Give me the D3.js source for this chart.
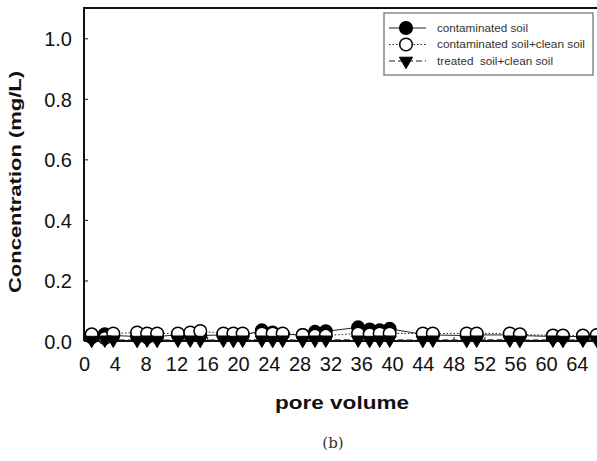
<!DOCTYPE html>
<html>
<head>
<meta charset="utf-8">
<script src="https://cdn.jsdelivr.net/npm/d3@7"></script>
<style>
  body { margin: 0; background: #fff; }
  svg { display: block; }
</style>
</head>
<body>
<div id="chart"></div>
<script>
// pore volume sampling points (shared by all three columns)
const poreVolume = [1.0, 2.7, 3.8, 6.9, 8.2, 9.5, 12.2, 13.8, 15.1, 18.1, 19.4, 20.6, 23.1, 24.5, 25.8, 28.4, 30.0, 31.4,
  35.6, 37.1, 38.4, 39.7, 44.0, 45.3, 49.7, 51.0, 55.3, 56.6, 60.9, 62.2, 64.8, 66.6];

const contaminatedSoil = [0.012, 0.022, 0.018, 0.015, 0.012, 0.015, 0.02, 0.022, 0.018, 0.02, 0.018, 0.018, 0.035, 0.028, 0.022,
  0.02, 0.03, 0.032, 0.045, 0.038, 0.035, 0.04, 0.022, 0.02, 0.018, 0.02, 0.02, 0.018, 0.015, 0.015, 0.015, 0.018];

const contaminatedClean = [0.022, 0.01, 0.025, 0.028, 0.025, 0.025, 0.025, 0.028, 0.033, 0.025, 0.025, 0.025, 0.025, 0.025, 0.025,
  0.02, 0.018, 0.018, 0.025, 0.022, 0.025, 0.025, 0.025, 0.025, 0.025, 0.025, 0.025, 0.022, 0.018, 0.018, 0.018, 0.02];

const treatedClean = [0.003, 0.004, 0.004, 0.003, 0.004, 0.003, 0.004, 0.004, 0.003, 0.004, 0.003, 0.004, 0.004, 0.003, 0.004,
  0.003, 0.004, 0.004, 0.004, 0.003, 0.004, 0.004, 0.003, 0.004, 0.003, 0.004, 0.004, 0.003, 0.004, 0.003, 0.004, 0.004];

const seriesNames = ["contaminated soil", "contaminated soil+clean soil", "treated  soil+clean soil"];
const xTicks = d3.range(0, 65, 4);
const yTicks = [0, 0.2, 0.4, 0.6, 0.8, 1.0];

const width = 597, height = 461;
const margin = { top: 8, left: 84, bottom: 120 };  // plot bottom at y=341
const plotBottom = height - margin.bottom;
const font = "Liberation Sans, Arial, sans-serif";

const svg = d3.select("#chart").append("svg")
  .attr("width", width)
  .attr("height", height);

svg.append("rect").attr("width", width).attr("height", height).attr("fill", "#fff");

const xScale = d3.scaleLinear().domain([0, 68]).range([margin.left, margin.left + 68 * 7.7]);
const yScale = d3.scaleLinear().domain([0, 1.1]).range([plotBottom, margin.top]);

// axes, ticks point inward
const yAxis = d3.axisLeft(yScale).tickValues(yTicks).tickFormat(d3.format(".1f")).tickSizeInner(-4).tickSizeOuter(0).tickPadding(12);
const xAxis = d3.axisBottom(xScale).tickValues(xTicks).tickFormat(d3.format("d")).tickSizeInner(-4).tickSizeOuter(0).tickPadding(16);

const yg = svg.append("g").attr("transform", `translate(${margin.left},0)`).call(yAxis);
const xg = svg.append("g").attr("transform", `translate(0,${plotBottom})`).call(xAxis);

[yg, xg].forEach(g => {
  g.select(".domain").remove();
  g.selectAll(".tick line").attr("stroke", "#111").attr("stroke-width", 1);
  g.selectAll(".tick text").attr("fill", "#111").style("font-family", font).style("font-size", "20px");
});
yg.selectAll(".tick text").attr("dy", "0.36em");
xg.selectAll(".tick text").attr("dy", "0.7em");

// frame: left, top, bottom
svg.append("path")
  .attr("d", `M${margin.left},${plotBottom}V${margin.top}H${width}`)
  .attr("fill", "none").attr("stroke", "#111").attr("stroke-width", 2);
svg.append("line")
  .attr("x1", margin.left).attr("x2", width)
  .attr("y1", plotBottom).attr("y2", plotBottom)
  .attr("stroke", "#111").attr("stroke-width", 2);

// axis titles (glyphs are a bit wide in the original, so stretch them)
svg.append("text")
  .attr("transform", `translate(21,182) rotate(-90)`)
  .attr("text-anchor", "middle")
  .style("font-family", font)
  .style("font-weight", "bold").style("font-size", "17px").attr("fill", "#111")
  .attr("textLength", 222).attr("lengthAdjust", "spacingAndGlyphs")
  .text("Concentration (mg/L)");

svg.append("text")
  .attr("x", 342).attr("y", 409)
  .attr("text-anchor", "middle")
  .style("font-family", font)
  .style("font-weight", "bold").style("font-size", "19px").attr("fill", "#111")
  .attr("textLength", 134).attr("lengthAdjust", "spacingAndGlyphs")
  .text("pore volume");

svg.append("text")
  .attr("x", 333).attr("y", 448)
  .attr("text-anchor", "middle")
  .style("font-family", "DejaVu Serif, Liberation Serif, serif")
  .style("font-size", "15px").attr("fill", "#333")
  .text("(b)");

// series
const data = [
  { name: seriesNames[0], values: contaminatedSoil, dash: null, shape: "circle", fill: "#000", len: 91 },
  { name: seriesNames[1], values: contaminatedClean, dash: "1.5,2", shape: "circle", fill: "#fff", len: 148 },
  { name: seriesNames[2], values: treatedClean, dash: "6,3", shape: "triangle", fill: "#000", len: 116 }
];

const tri = d3.symbol().type(d3.symbolTriangle).size(75);

function drawMarker(g, s, x, y) {
  if (s.shape === "circle") {
    g.append("circle").attr("cx", x).attr("cy", y).attr("r", 6.3)
      .attr("fill", s.fill).attr("stroke", "#000").attr("stroke-width", 1.5);
  } else {
    g.append("path").attr("d", tri).attr("transform", `translate(${x},${y}) rotate(180)`)
      .attr("fill", "#000").attr("stroke", "#000").attr("stroke-width", 1);
  }
}

const line = d3.line().x((d, i) => xScale(poreVolume[i])).y(d => yScale(d));

data.forEach(s => {
  svg.append("path")
    .attr("d", line(s.values))
    .attr("fill", "none").attr("stroke", "#222").attr("stroke-width", 1)
    .attr("stroke-dasharray", s.dash);
});
data.forEach(s => {
  const g = svg.append("g");
  s.values.forEach((v, i) => drawMarker(g, s, xScale(poreVolume[i]), yScale(v)));
});

// legend
const legend = svg.append("g");
legend.append("rect")
  .attr("x", 384).attr("y", 13).attr("width", 209).attr("height", 62)
  .attr("fill", "#fff").attr("stroke", "#888").attr("stroke-width", 1.5);

data.forEach((s, i) => {
  const y = 28 + i * 16.5;
  legend.append("line")
    .attr("x1", 389).attr("x2", 426).attr("y1", y).attr("y2", y)
    .attr("stroke", "#222").attr("stroke-width", 1).attr("stroke-dasharray", s.dash);
  drawMarker(legend, s, 406, y);
  legend.append("text")
    .attr("x", 437).attr("y", y).attr("dy", "0.35em")
    .style("font-family", font)
    .style("font-size", "11px").attr("fill", "#333")
    .style("white-space", "pre")
    .attr("textLength", s.len).attr("lengthAdjust", "spacingAndGlyphs")
    .text(s.name);
});
</script>
</body>
</html>
